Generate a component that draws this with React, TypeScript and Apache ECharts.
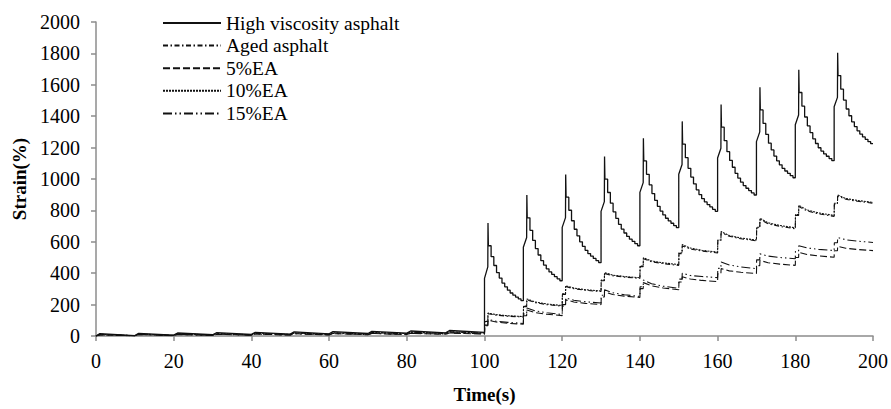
import { useEffect, useRef } from "react";
import * as echarts from "echarts";

const seriesNames = ["High viscosity asphalt", "Aged asphalt", "5%EA", "10%EA", "15%EA"];
const lowStressStarts = [0, 10, 20, 30, 40, 50, 60, 70, 80, 90];
const highStressStarts = [100, 110, 120, 130, 140, 150, 160, 170, 180, 190];
const xMax = 200;
const xStep = 20;
const yMax = 2000;
const yStep = 200;

// 0.1 kPa cycles: strain after 1 s creep, strain at end of 9 s recovery
const hvLowPeak = [15, 17, 19, 21, 23, 26, 28, 30, 32, 35];
const hvLowEnd = [3, 6, 8, 10, 12, 14, 16, 18, 20, 23];
const agedLowPeak = [10, 12, 14, 15, 17, 19, 20, 22, 24, 26];
const agedLowEnd = [2, 4, 6, 7, 9, 11, 12, 14, 16, 18];
const ea5LowPeak = [7, 9, 10, 11, 12, 14, 15, 16, 17, 19];
const ea5LowEnd = [1, 2, 3, 5, 6, 7, 8, 9, 11, 12];
const ea10LowPeak = [11, 13, 15, 16, 18, 20, 21, 23, 25, 27];
const ea10LowEnd = [2, 4, 6, 8, 10, 11, 13, 15, 17, 19];
const ea15LowPeak = [8, 10, 11, 12, 13, 15, 16, 17, 18, 20];
const ea15LowEnd = [1, 3, 4, 5, 7, 8, 9, 10, 12, 14];

// High viscosity asphalt, 3.2 kPa cycles
const hvJump = [367, 565, 692, 794, 915, 1030, 1134, 1238, 1346, 1460];
const hvCreep = [440, 627, 754, 856, 977, 1092, 1196, 1300, 1408, 1520];
const hvPeak = [720, 898, 1029, 1144, 1260, 1367, 1475, 1585, 1696, 1804];
const hvRecoveryTimes = [1.0, 1.7, 2.4, 3.1, 3.8, 4.5, 5.2, 5.9, 6.6, 7.3, 8.0, 8.7, 9.4];
const hvRecovery = [
  [575, 505, 449, 404, 369, 337, 313, 292, 274, 260, 248, 236, 225],
  [753, 673, 609, 557, 516, 480, 452, 428, 408, 392, 378, 364, 352],
  [884, 801, 734, 680, 638, 600, 571, 546, 525, 509, 494, 480, 467],
  [999, 914, 846, 791, 749, 711, 681, 656, 634, 617, 603, 588, 575],
  [1115, 1030, 962, 907, 864, 826, 796, 771, 750, 733, 718, 703, 690],
  [1222, 1136, 1068, 1012, 969, 931, 901, 875, 854, 837, 822, 807, 794],
  [1330, 1244, 1174, 1118, 1075, 1036, 1006, 980, 958, 941, 926, 911, 898],
  [1440, 1354, 1284, 1228, 1185, 1146, 1116, 1090, 1068, 1051, 1036, 1021, 1008],
  [1551, 1464, 1395, 1338, 1295, 1256, 1226, 1199, 1178, 1160, 1145, 1130, 1117],
  [1659, 1572, 1503, 1446, 1403, 1364, 1334, 1307, 1286, 1268, 1253, 1238, 1225],
];

// Other binders, 3.2 kPa cycles: after load jump, top at 1 s, at 3 s, at 6 s, at 10 s
const agedJump = [92, 187, 265, 352, 442, 525, 606, 688, 768, 840];
const agedTop = [142, 231, 315, 398, 492, 575, 658, 742, 825, 892];
const agedAt3s = [133, 213, 301, 384, 473, 554, 635, 715, 797, 871];
const agedAt6s = [126, 200, 291, 375, 461, 541, 619, 698, 778, 858];
const agedEnd = [121, 190, 283, 367, 450, 529, 606, 683, 762, 846];

const ea10Jump = [94, 190, 268, 356, 446, 530, 611, 693, 774, 846];
const ea10Top = [146, 236, 320, 404, 498, 582, 665, 750, 833, 898];
const ea10At3s = [136, 217, 305, 388, 478, 560, 640, 721, 803, 876];
const ea10At6s = [129, 204, 295, 379, 466, 546, 624, 704, 784, 863];
const ea10End = [124, 194, 287, 371, 455, 534, 611, 689, 768, 851];

const ea15Jump = [69, 140, 200, 260, 314, 362, 431, 485, 542, 594];
const ea15Top = [106, 179, 242, 294, 356, 400, 471, 523, 575, 627];
const ea15At3s = [94, 160, 228, 275, 333, 385, 452, 509, 561, 613];
const ea15At6s = [87, 148, 218, 263, 317, 379, 440, 500, 552, 604];
const ea15End = [80, 137, 210, 252, 304, 372, 429, 492, 544, 596];

const ea5Jump = [65, 129, 190, 248, 302, 344, 396, 448, 500, 543];
const ea5Top = [100, 165, 230, 280, 340, 377, 429, 481, 533, 571];
const ea5At3s = [89, 149, 217, 264, 320, 363, 415, 467, 519, 559];
const ea5At6s = [81, 139, 208, 254, 306, 354, 406, 458, 510, 551];
const ea5End = [75, 130, 200, 245, 295, 346, 398, 450, 502, 544];

function lowPart(peaks: number[], ends: number[]) {
  const pts: number[][] = [[0, 0]];
  lowStressStarts.forEach((t, i) => {
    pts.push([t + 1, peaks[i]]);
    pts.push([t + 10, ends[i]]);
  });
  return pts;
}

function hvData() {
  const pts = lowPart(hvLowPeak, hvLowEnd);
  highStressStarts.forEach((t, i) => {
    const rec = hvRecovery[i];
    pts.push([t, hvJump[i]]);
    pts.push([t + 0.85, hvCreep[i]]);
    pts.push([t + 0.9, hvPeak[i]]);
    pts.push([t + 1.0, rec[0]]);
    for (let k = 1; k < rec.length; k++) {
      pts.push([t + hvRecoveryTimes[k], rec[k - 1]]);
      pts.push([t + hvRecoveryTimes[k], rec[k]]);
    }
    pts.push([t + 10, rec[rec.length - 1]]);
  });
  return pts;
}

function otherData(
  lowPeak: number[], lowEnd: number[],
  jump: number[], top: number[], at3: number[], at6: number[], end: number[]
) {
  const pts = lowPart(lowPeak, lowEnd);
  highStressStarts.forEach((t, i) => {
    pts.push([t + 0.05, jump[i]]);
    pts.push([t + 0.85, jump[i]]);
    pts.push([t + 0.9, top[i]]);
    pts.push([t + 3, at3[i]]);
    pts.push([t + 6, at6[i]]);
    pts.push([t + 10, end[i]]);
  });
  return pts;
}

const FONT = "Liberation Serif";

export default function App() {
  const ref = useRef<HTMLDivElement>(null);
  useEffect(() => {
    if (!ref.current) return;
    const chart = echarts.init(ref.current, null, { renderer: "svg" });
    const mk = (name: string, data: number[][], type: any, width = 1.1) => ({
      name,
      type: "line",
      data,
      color: "#111",
      showSymbol: false,
      symbol: "none",
      itemStyle: { color: "#111" },
      lineStyle: { color: "#111", width, type },
      z: 2,
    });
    chart.setOption({
      animation: false,
      backgroundColor: "#fff",
      grid: { left: 96, right: 18, top: 22, bottom: 67, containLabel: false },
      legend: {
        orient: "vertical",
        left: 157,
        top: 8,
        itemWidth: 58,
        itemHeight: 14,
        itemGap: 2.6,
        data: seriesNames,
        itemStyle: { opacity: 0 },
        textStyle: { fontFamily: FONT, fontSize: 19.5, color: "#000", lineHeight: 20 },
      },
      xAxis: {
        type: "value",
        min: 0,
        max: xMax,
        interval: xStep,
        name: "Time(s)",
        nameLocation: "middle",
        nameGap: 49,
        nameTextStyle: { fontFamily: FONT, fontSize: 19, fontWeight: "bold", color: "#000" },
        axisLine: { lineStyle: { color: "#8c8c8c", width: 1.5 } },
        axisTick: { show: true, length: 5, lineStyle: { color: "#8c8c8c", width: 1.5 } },
        axisLabel: { fontFamily: FONT, fontSize: 20, color: "#000", margin: 15, formatter: (v: number) => String(v) },
        splitLine: { show: false },
      },
      yAxis: {
        type: "value",
        min: 0,
        max: yMax,
        interval: yStep,
        name: "Strain(%)",
        nameLocation: "middle",
        nameGap: 53,
        nameTextStyle: { fontFamily: FONT, fontSize: 19, fontWeight: "bold", color: "#000" },
        axisLine: { show: true, lineStyle: { color: "#8c8c8c", width: 1.5 } },
        axisTick: { show: true, length: 5, lineStyle: { color: "#8c8c8c", width: 1.5 } },
        axisLabel: { fontFamily: FONT, fontSize: 20, color: "#000", margin: 16, formatter: (v: number) => String(v) },
        splitLine: { show: false },
      },
      series: [
        mk(seriesNames[0], hvData(), "solid", 1.3),
        mk(seriesNames[1], otherData(agedLowPeak, agedLowEnd, agedJump, agedTop, agedAt3s, agedAt6s, agedEnd), [5, 2.5, 1.5, 2.5]),
        mk(seriesNames[2], otherData(ea5LowPeak, ea5LowEnd, ea5Jump, ea5Top, ea5At3s, ea5At6s, ea5End), [7, 3]),
        mk(seriesNames[3], otherData(ea10LowPeak, ea10LowEnd, ea10Jump, ea10Top, ea10At3s, ea10At6s, ea10End), [2, 1]),
        mk(seriesNames[4], otherData(ea15LowPeak, ea15LowEnd, ea15Jump, ea15Top, ea15At3s, ea15At6s, ea15End), [9, 3, 1.5, 3, 1.5, 3]),
      ],
    });
    return () => chart.dispose();
  }, []);
  return (
    <div
      ref={ref}
      style={{ position: "absolute", left: 0, top: 0, width: 891, height: 409, background: "#fff" }}
    />
  );
}
